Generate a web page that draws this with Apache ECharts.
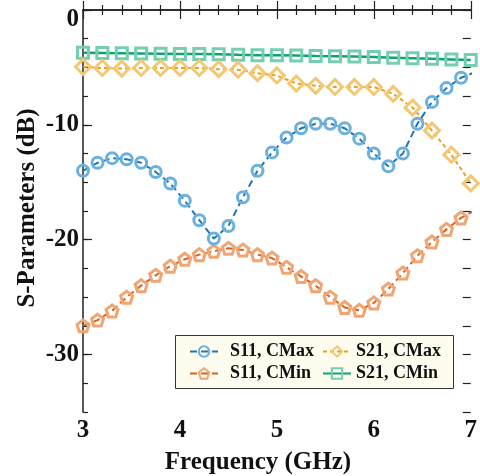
<!DOCTYPE html>
<html>
<head>
<meta charset="utf-8">
<script src="https://cdn.jsdelivr.net/npm/echarts@6/dist/echarts.min.js"></script>
<style>
  html, body { margin: 0; padding: 0; background: #fff; }
  #chart { width: 480px; height: 476px; }
</style>
</head>
<body>
<div id="chart"></div>
<script>
// S11 curves are sampled every 0.15 GHz, S21 curves every 0.2 GHz
var s11Freq = [3.00, 3.15, 3.30, 3.45, 3.60, 3.75, 3.90, 4.05, 4.20, 4.35, 4.50, 4.65, 4.80, 4.95,
               5.10, 5.25, 5.40, 5.55, 5.70, 5.85, 6.00, 6.15, 6.30, 6.45, 6.60, 6.75, 6.90, 7.05];
var s11CMax = [-14.0, -13.3, -12.9, -13.0, -13.3, -14.1, -15.1, -16.6, -18.3, -19.9, -18.8, -16.3, -14.0, -12.4,
               -11.1, -10.3, -9.9, -9.9, -10.3, -11.2, -12.5, -13.6, -12.5, -9.9, -8.0, -6.8, -5.9, -5.4];
var s11CMin = [-27.5, -27.0, -26.2, -25.0, -24.0, -23.1, -22.3, -21.7, -21.3, -21.0, -20.75, -20.9, -21.3, -21.6,
               -22.4, -23.2, -24.0, -25.0, -25.9, -26.15, -25.5, -24.3, -22.9, -21.4, -20.2, -19.1, -18.1, -17.4];

var s21Freq = [3.0, 3.2, 3.4, 3.6, 3.8, 4.0, 4.2, 4.4, 4.6, 4.8, 5.0, 5.2, 5.4, 5.6, 5.8, 6.0, 6.2, 6.4, 6.6, 6.8, 7.0];
var s21CMax = [-4.95, -5.05, -5.1, -5.05, -5.05, -5.05, -5.05, -5.15, -5.2, -5.5, -5.7, -6.4, -6.6, -6.7,
               -6.7, -6.7, -7.3, -8.5, -10.5, -12.6, -15.1];
var s21CMin = [-3.72, -3.74, -3.76, -3.78, -3.8, -3.82, -3.84, -3.86, -3.9, -3.93, -3.95, -3.97, -4.0, -4.02,
               -4.05, -4.1, -4.15, -4.2, -4.25, -4.3, -4.35];

var yMajor = [-30, -20, -10, 0];

var serif = 'Liberation Serif';
var axisColor = '#222';
var pentagon = 'path://M0,-10 L9.51,-3.09 L5.88,8.09 L-5.88,8.09 L-9.51,-3.09 Z';

function pairs(xs, ys) {
    var out = [];
    for (var i = 0; i < xs.length; i++) out.push([xs[i], ys[i]]);
    return out;
}

function lineSeries(name, xs, ys, symbol, size, lineColor, markColor, dash, width) {
    return {
        name: name,
        type: 'line',
        data: pairs(xs, ys),
        symbol: symbol,
        symbolSize: size,
        showAllSymbol: true,
        clip: true,
        lineStyle: {color: lineColor, width: width || 2, type: dash},
        itemStyle: {color: 'rgba(255,255,255,0)', borderColor: markColor, borderWidth: 3},
        emphasis: {disabled: true}
    };
}

var minorY = {
    type: 'value', min: -35, max: 0, interval: 2.5,
    axisLine: {show: false},
    axisTick: {inside: true, length: 5, lineStyle: {color: axisColor, width: 1.2}},
    axisLabel: {show: false},
    splitLine: {show: false}
};

var xBase = {
    type: 'value', min: 3, max: 7, interval: 1,
    axisLine: {lineStyle: {color: axisColor, width: 1.5}},
    axisTick: {inside: true, length: 9, lineStyle: {color: axisColor, width: 1.2}},
    minorTick: {show: true, splitNumber: 5, length: 5, lineStyle: {color: axisColor, width: 1.2}},
    splitLine: {show: false},
    minorSplitLine: {show: false}
};

var legendText = {fontFamily: serif, fontWeight: 'bold', fontSize: 18, color: '#111', lineHeight: 19};

var myChart = echarts.init(document.getElementById('chart'));
var option = {
    animation: false,
    grid: {left: 83, right: -3, top: 10, bottom: 64},
    xAxis: [
        Object.assign({}, xBase, {
            position: 'bottom',
            axisLabel: {fontFamily: serif, fontWeight: 'bold', fontSize: 25, color: '#111', margin: 6}
        }),
        Object.assign({}, xBase, {position: 'top', axisLabel: {show: false}})
    ],
    yAxis: [
        {
            type: 'value', min: -35, max: 0, position: 'left',
            axisLine: {show: true, lineStyle: {color: axisColor, width: 1.5}},
            axisTick: {show: true, inside: true, length: 9, customValues: yMajor,
                lineStyle: {color: axisColor, width: 1.2}},
            axisLabel: {
                customValues: yMajor, margin: 4,
                fontFamily: serif, fontWeight: 'bold', fontSize: 25, color: '#111',
                formatter: function (v) { return v === 0 ? '{z|0}' : String(v); },
                rich: {z: {fontFamily: serif, fontWeight: 'bold', fontSize: 25, color: '#111', padding: [20, 0, 0, 0]}}
            },
            splitLine: {show: false}
        },
        Object.assign({}, minorY, {position: 'left'}),
        Object.assign({}, minorY, {position: 'right', axisTick: {inside: true, length: 8, lineStyle: {color: axisColor, width: 1.2}}})
    ],
    legend: [
        {
            data: ['S11, CMax', 'S11, CMin'],
            orient: 'vertical', left: 189, top: 342, padding: 0, itemGap: 3,
            itemWidth: 28, itemHeight: 13,
            textStyle: Object.assign({}, legendText, {padding: [0, 0, 0, 7]}), z: 6
        },
        {
            data: ['S21, CMax', 'S21, CMin'],
            orient: 'vertical', left: 322, top: 342, padding: 0, itemGap: 3,
            itemWidth: 28, itemHeight: 13, textStyle: legendText, z: 6
        }
    ],
    graphic: [
        {type: 'rect', z: 5, shape: {x: 175.5, y: 335.5, width: 278, height: 53},
         style: {fill: '#fdfcef', stroke: '#333', lineWidth: 1}},
        {type: 'text', x: 258, y: 463,
         style: {text: 'Frequency (GHz)', font: 'bold 25px "Liberation Serif"', fill: '#111',
                 align: 'center', verticalAlign: 'middle'}},
        {type: 'text', x: 28, y: 208, rotation: Math.PI / 2,
         style: {text: 'S-Parameters (dB)', font: 'bold 25px "Liberation Serif"', fill: '#111',
                 align: 'center', verticalAlign: 'middle'}}
    ],
    series: [
        lineSeries('S21, CMin', s21Freq, s21CMin, 'rect', 11, '#13a075', '#74cfae', 'solid', 2.5),
        lineSeries('S21, CMax', s21Freq, s21CMax, 'diamond', 15, '#e9a31a', '#f3c874', [4, 3]),
        lineSeries('S11, CMin', s11Freq, s11CMin, pentagon, 12, '#d9611d', '#f0a574', [7, 4]),
        lineSeries('S11, CMax', s11Freq, s11CMax, 'circle', 11, '#1c76b6', '#6cb0dd', [7, 4])
    ]
};
myChart.setOption(option);
</script>
</body>
</html>
